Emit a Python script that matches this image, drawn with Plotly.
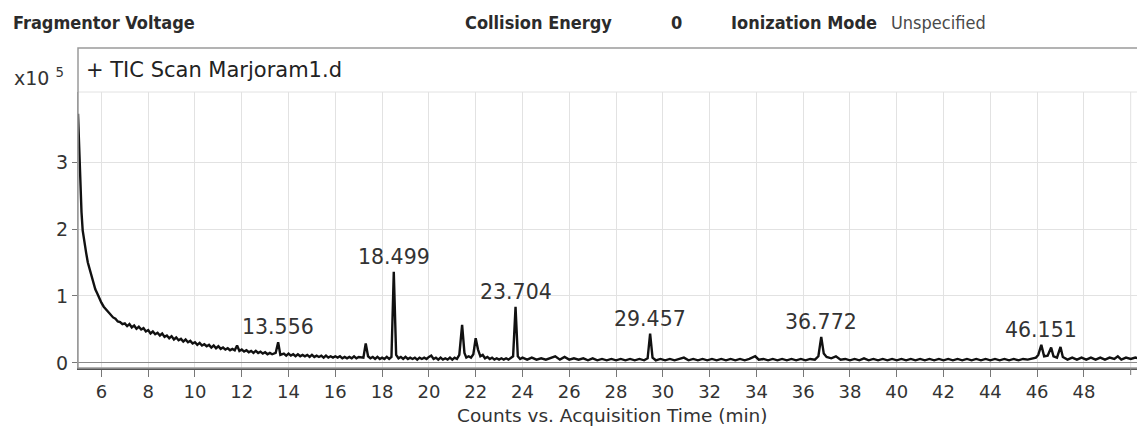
import plotly.graph_objects as go

# ---- data (counts in units of 10^5) ----
# early solvent-tail decay
times_a = [5.00, 5.03, 5.06, 5.10, 5.15, 5.20, 5.27, 5.35, 5.42, 5.50, 5.58, 5.66, 5.74, 5.82,
           5.90, 6.00, 6.10, 6.20, 6.30, 6.40, 6.50, 6.60, 6.70, 6.80, 6.90]
counts_a = [3.72, 3.40, 3.05, 2.62, 2.25, 1.98, 1.80, 1.64, 1.50, 1.40, 1.26, 1.18, 1.10, 1.04,
            0.97, 0.90, 0.84, 0.80, 0.75, 0.72, 0.68, 0.66, 0.62, 0.61, 0.58]
# noisy tail 7 - 17.3 min
times_b = [7.0, 7.1, 7.2, 7.3, 7.4, 7.5, 7.6, 7.7, 7.8, 7.9, 8.0, 8.1, 8.2, 8.3, 8.4, 8.5, 8.6,
           8.7, 8.8, 8.9, 9.0, 9.1, 9.2, 9.3, 9.4, 9.5, 9.6, 9.7, 9.8, 9.9, 10.0, 10.1, 10.2,
           10.3, 10.4, 10.5, 10.6, 10.7, 10.8, 10.9, 11.0, 11.1, 11.2, 11.3, 11.4, 11.5, 11.6,
           11.7, 11.8, 11.9, 12.0, 12.1, 12.2, 12.3, 12.4, 12.5, 12.6, 12.7, 12.8, 12.9, 13.0,
           13.1, 13.2, 13.3, 13.45, 13.556, 13.65, 13.8, 13.9, 14.0, 14.1, 14.2, 14.3, 14.4,
           14.5, 14.6, 14.7, 14.8, 14.9, 15.0, 15.1, 15.2, 15.3, 15.4, 15.5, 15.6, 15.7, 15.8,
           15.9, 16.0, 16.1, 16.2, 16.3, 16.4, 16.5, 16.6, 16.7, 16.8, 16.9, 17.0, 17.2, 17.3]
counts_b = [0.59, 0.55, 0.58, 0.53, 0.56, 0.51, 0.54, 0.50, 0.52, 0.47, 0.49, 0.44, 0.47, 0.43,
            0.45, 0.41, 0.44, 0.39, 0.41, 0.37, 0.40, 0.35, 0.38, 0.34, 0.36, 0.32, 0.35, 0.31,
            0.33, 0.29, 0.31, 0.27, 0.30, 0.26, 0.28, 0.25, 0.27, 0.23, 0.26, 0.22, 0.25, 0.21,
            0.23, 0.20, 0.22, 0.19, 0.21, 0.19, 0.26, 0.18, 0.20, 0.17, 0.19, 0.16, 0.18, 0.15,
            0.18, 0.15, 0.17, 0.14, 0.16, 0.13, 0.15, 0.13, 0.15, 0.31, 0.12, 0.14, 0.11, 0.14,
            0.11, 0.13, 0.10, 0.13, 0.10, 0.12, 0.10, 0.12, 0.09, 0.12, 0.09, 0.11, 0.09, 0.11,
            0.08, 0.11, 0.08, 0.10, 0.08, 0.10, 0.08, 0.10, 0.07, 0.09, 0.07, 0.09, 0.07, 0.10,
            0.07, 0.09, 0.08, 0.29]
# 17.4 - 24 min (main peaks)
times_c = [17.4, 17.5, 17.6, 17.7, 17.8, 17.9, 18.0, 18.1, 18.2, 18.3, 18.4, 18.499, 18.6,
           18.7, 18.8, 18.9, 19.0, 19.1, 19.2, 19.3, 19.4, 19.5, 19.6, 19.7, 19.8, 19.9, 20.0,
           20.1, 20.2, 20.3, 20.4, 20.5, 20.6, 20.7, 20.8, 20.9, 21.0, 21.1, 21.2, 21.3, 21.42,
           21.52, 21.6, 21.7, 21.8, 21.9, 22.0, 22.1, 22.2, 22.3, 22.4, 22.5, 22.6, 22.7, 22.8,
           22.9, 23.0, 23.1, 23.2, 23.3, 23.4, 23.5, 23.6, 23.704, 23.8, 23.9, 24.0]
counts_c = [0.10, 0.07, 0.09, 0.06, 0.09, 0.06, 0.08, 0.06, 0.09, 0.06, 0.09, 1.36, 0.12,
            0.07, 0.09, 0.06, 0.09, 0.06, 0.08, 0.06, 0.08, 0.05, 0.08, 0.06, 0.08, 0.06, 0.09,
            0.11, 0.06, 0.08, 0.05, 0.08, 0.05, 0.07, 0.05, 0.08, 0.05, 0.08, 0.06, 0.12, 0.57,
            0.15, 0.08, 0.10, 0.08, 0.13, 0.37, 0.20, 0.10, 0.12, 0.07, 0.09, 0.06, 0.08, 0.05,
            0.07, 0.05, 0.07, 0.05, 0.07, 0.05, 0.07, 0.10, 0.84, 0.10, 0.06, 0.08]
# 24.2 - 50.4 min baseline with later peaks
times_d = [24.2, 24.4, 24.6, 24.8, 25.0, 25.2, 25.4, 25.6, 25.8, 26.0, 26.2, 26.4, 26.6, 26.8,
           27.0, 27.2, 27.4, 27.6, 27.8, 28.0, 28.2, 28.4, 28.6, 28.8, 29.0, 29.2, 29.35, 29.457,
           29.56, 29.7, 29.9, 30.1, 30.3, 30.5, 30.7, 30.9, 31.1, 31.3, 31.5, 31.7, 31.9, 32.1,
           32.3, 32.5, 32.7, 32.9, 33.1, 33.3, 33.5, 33.7, 33.95, 34.1, 34.3, 34.5, 34.7, 34.9,
           35.1, 35.3, 35.5, 35.7, 35.9, 36.1, 36.3, 36.5, 36.65, 36.772, 36.88, 37.0, 37.2,
           37.4, 37.6, 37.8, 38.0, 38.2, 38.4, 38.6, 38.8, 39.0, 39.2, 39.4, 39.6, 39.8, 40.0,
           40.2, 40.4, 40.6, 40.8, 41.0, 41.2, 41.4, 41.6, 41.8, 42.0, 42.2, 42.4, 42.6, 42.8,
           43.0, 43.2, 43.4, 43.6, 43.8, 44.0, 44.2, 44.4, 44.6, 44.8, 45.0, 45.2, 45.4, 45.6,
           45.8, 45.95, 46.05, 46.18, 46.3, 46.45, 46.6, 46.7, 46.85, 47.0, 47.1, 47.3, 47.5,
           47.7, 47.9, 48.1, 48.3, 48.5, 48.7, 48.9, 49.1, 49.3, 49.45, 49.6, 49.8, 50.0, 50.2,
           50.4]
counts_d = [0.05, 0.08, 0.05, 0.07, 0.05, 0.07, 0.10, 0.05, 0.09, 0.05, 0.07, 0.05, 0.07, 0.04,
            0.07, 0.04, 0.06, 0.04, 0.06, 0.04, 0.06, 0.04, 0.06, 0.04, 0.06, 0.04, 0.07, 0.44,
            0.08, 0.04, 0.06, 0.04, 0.06, 0.04, 0.06, 0.08, 0.04, 0.06, 0.04, 0.06, 0.04, 0.06,
            0.04, 0.06, 0.04, 0.06, 0.04, 0.06, 0.04, 0.06, 0.10, 0.05, 0.06, 0.04, 0.06, 0.04,
            0.06, 0.04, 0.06, 0.04, 0.06, 0.04, 0.06, 0.05, 0.10, 0.39, 0.14, 0.09, 0.07,
            0.10, 0.05, 0.06, 0.04, 0.06, 0.04, 0.07, 0.04, 0.06, 0.04, 0.06, 0.04, 0.06, 0.04,
            0.06, 0.04, 0.06, 0.04, 0.06, 0.04, 0.06, 0.04, 0.06, 0.04, 0.06, 0.04, 0.06, 0.04,
            0.06, 0.04, 0.06, 0.04, 0.06, 0.04, 0.06, 0.04, 0.06, 0.04, 0.06, 0.04, 0.06, 0.05,
            0.07, 0.08, 0.12, 0.27, 0.10, 0.11, 0.23, 0.10, 0.08, 0.24, 0.09, 0.05, 0.08,
            0.05, 0.08, 0.05, 0.08, 0.05, 0.08, 0.05, 0.08, 0.06, 0.10, 0.05, 0.08, 0.06, 0.08,
            0.06]

times = times_a + times_b + times_c + times_d
counts = counts_a + counts_b + counts_c + counts_d

peak_times = [13.556, 18.499, 23.704, 29.457, 36.772, 46.151]
peak_heights = [0.31, 1.36, 0.84, 0.44, 0.39, 0.27]
peak_labels = ["13.556", "18.499", "23.704", "29.457", "36.772", "46.151"]

x_ticks = list(range(6, 49, 2))
x_extra_grid = [50]
y_ticks = [0, 1, 2, 3]
x_range = [5.0, 50.27]

W, H = 1137, 426
L, R, T, B = 78, 0, 92, 47
PW, PH = W - L - R, H - T - B
AXIS_Y = 368  # pixel row of the x axis line


def px(x):
    return (x - L) / PW


def py(y):
    return (H - B - y) / PH


FONT = "DejaVu Sans"
HFONT = "DejaVu Sans Condensed"

fig = go.Figure()
fig.add_trace(go.Scatter(x=times, y=counts, mode="lines",
                         line=dict(color="#111111", width=2.4), hoverinfo="skip",
                         showlegend=False))

for t, h, lab in zip(peak_times, peak_heights, peak_labels):
    fig.add_annotation(x=t, y=h, text=lab, showarrow=False, yanchor="middle",
                       yshift=15, font=dict(family=FONT, size=20.5, color="#333333"))

# extra grid line + tick at 50
for g in x_extra_grid:
    fig.add_shape(type="line", xref="x", yref="y domain", x0=g, x1=g, y0=0, y1=1,
                  line=dict(color="#e2e2e2", width=1), layer="below")
    fig.add_shape(type="line", xref="x", yref="paper", x0=g, x1=g,
                  y0=py(AXIS_Y), y1=py(AXIS_Y + 7),
                  line=dict(color="#777777", width=1))

# frame around plot + title area
fig.add_shape(type="rect", xref="paper", yref="paper", x0=0, x1=1.05,
              y0=py(AXIS_Y), y1=py(48),
              line=dict(color="#9a9a9a", width=1.5), layer="above")
# top grid line
fig.add_shape(type="line", xref="paper", yref="y domain", x0=0, x1=1, y0=1, y1=1,
              line=dict(color="#e2e2e2", width=1), layer="below")

fig.add_annotation(xref="paper", yref="paper", x=px(84), y=py(70), xanchor="left",
                   yanchor="middle", text="+ TIC Scan Marjoram1.d", showarrow=False,
                   font=dict(family=FONT, size=21, color="#222222"))
fig.add_annotation(xref="paper", yref="paper", x=px(12), y=py(77), xanchor="left",
                   yanchor="middle", text="x10 <sup>5</sup>", showarrow=False,
                   font=dict(family=FONT, size=19, color="#333333"))

hdr = [(11, "<b>Fragmentor Voltage</b>", "#2b2b2b"),
       (463, "<b>Collision Energy</b>", "#2b2b2b"),
       (669, "<b>0</b>", "#2b2b2b"),
       (729, "<b>Ionization Mode</b>", "#2b2b2b"),
       (889, "Unspecified", "#4a4a4a")]
for x0, txt, col in hdr:
    fig.add_annotation(xref="paper", yref="paper", x=px(x0), y=py(22), xanchor="left",
                       yanchor="middle", text=txt, showarrow=False,
                       font=dict(family=HFONT, size=18, color=col))

fig.add_annotation(xref="paper", yref="paper", x=px(612), y=py(415), xanchor="center",
                   yanchor="middle", text="Counts vs. Acquisition Time (min)", showarrow=False,
                   font=dict(family=FONT, size=18.5, color="#333333"))

# a second (labels-only) x axis placed a few pixels below the main axis line
fig.add_trace(go.Scatter(x=[x_range[0]], y=[None], xaxis="x2", yaxis="y",
                         mode="lines", showlegend=False, hoverinfo="skip"))

fig.update_layout(
    width=W, height=H, margin=dict(l=L, r=R, t=T, b=B),
    paper_bgcolor="white", plot_bgcolor="white",
    xaxis=dict(range=x_range, tickvals=x_ticks, showticklabels=False,
               showgrid=True, gridcolor="#e2e2e2", gridwidth=1, zeroline=False,
               showline=True, linecolor="#555555", linewidth=1.5,
               ticks="outside", ticklen=7, tickcolor="#777777"),
    xaxis2=dict(range=x_range, tickvals=x_ticks, overlaying="x", anchor="free",
                position=0, side="bottom", showgrid=False, zeroline=False,
                showline=False, ticks="",
                tickfont=dict(family=FONT, size=18, color="#333333")),
    yaxis=dict(range=[-0.075, 4.045], tickvals=y_ticks,
               domain=[(H - B - AXIS_Y) / PH, 1],
               showgrid=True, gridcolor="#e2e2e2", gridwidth=1,
               zeroline=True, zerolinecolor="#8a8a8a", zerolinewidth=1,
               showline=True, linecolor="#9a9a9a", linewidth=1,
               ticks="outside", ticklen=5, tickcolor="#777777",
               tickfont=dict(family=FONT, size=19, color="#333333")),
)

fig.write_html("out.html", config={"displayModeBar": False},
               post_script="document.body.style.margin='0px';")
